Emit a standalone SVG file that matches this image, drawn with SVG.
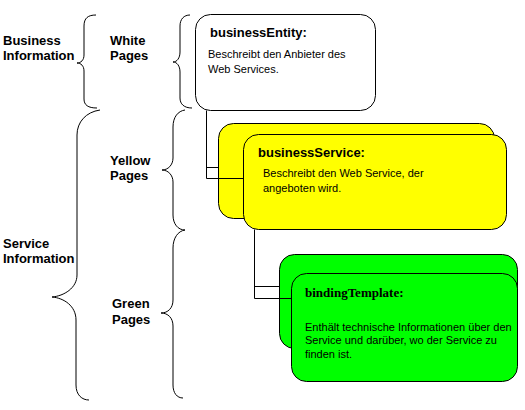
<svg xmlns="http://www.w3.org/2000/svg" width="525" height="410" viewBox="0 0 525 410">
<style>
.lbl{font-family:"Liberation Sans",Arial,sans-serif;font-weight:bold;font-size:13px;fill:#000}
.ttl{font-family:"Liberation Sans",Arial,sans-serif;font-weight:bold;font-size:13px;fill:#000}
.ttls{font-family:"Liberation Serif","Times New Roman",serif;font-weight:bold;font-size:13px;fill:#000}
.dsc{font-family:"Liberation Sans",Arial,sans-serif;font-size:11px;fill:#000}
.brace{fill:none;stroke:#000;stroke-width:1}
.card{stroke:#000;stroke-width:1}
.conn{fill:none;stroke:#000;stroke-width:1}
</style>
<rect width="525" height="410" fill="#fff"/>
<g id="braces">
<path class="brace" d="M96,15 C88,15 84,18 84,26 L84,55 C84,60 81,63 77,63 C81,63 84,66 84,71 L84,99 C84,105 88,108 97,108"/>
<path class="brace" d="M100,110 C86,112 77,122 77,135 L77,275 C77,288 64,296 52,297 C64,298 76,306 76,320 L76,385 C76,395 82,400 89,400"/>
<path class="brace" d="M190,15 C184,15 180,19 180,26 L180,52 C180,58 177,62 173,62 C177,62 180,66 180,72 L180,98 C180,104 184,108 192,108"/>
<path class="brace" d="M185,110 C178,111 173,117 173,127 L173,158 C173,165 168,170 162,170 C168,170 173,175 173,182 L173,215 C173,224 178,230 185,230"/>
<path class="brace" d="M185,230 C178,231 173,238 173,248 L173,300 C173,308 168,313 161,313 C168,313 173,318 173,326 L173,385 C173,393 177,398 183,398"/>
</g>
<g id="labels">
<text class="lbl" x="3" y="45">Business</text>
<text class="lbl" x="3" y="60">Information</text>
<text class="lbl" x="3" y="248">Service</text>
<text class="lbl" x="3" y="263">Information</text>
<text class="lbl" x="110" y="45">White</text>
<text class="lbl" x="110" y="60">Pages</text>
<text class="lbl" x="110" y="165">Yellow</text>
<text class="lbl" x="110" y="180">Pages</text>
<text class="lbl" x="112" y="308">Green</text>
<text class="lbl" x="112" y="324">Pages</text>
</g>
<g id="businessEntity">
<rect class="card" x="195.5" y="14.5" width="180" height="96" rx="15" fill="#fff"/>
<text class="ttl" x="210" y="37">businessEntity:</text>
<text class="dsc" x="208" y="58">Beschreibt den Anbieter des</text>
<text class="dsc" x="208" y="73">Web Services.</text>
</g>
<g id="businessService">
<rect class="card" x="218.5" y="123.5" width="276" height="95" rx="15" fill="#ffff00"/>
<rect class="card" x="243.5" y="134.5" width="263" height="95" rx="15" fill="#ffff00"/>
<text class="ttl" x="258" y="157">businessService:</text>
<text class="dsc" x="263" y="177">Beschreibt den Web Service, der</text>
<text class="dsc" x="263" y="192">angeboten wird.</text>
</g>
<g id="bindingTemplate">
<rect class="card" x="279.5" y="254.5" width="238" height="94" rx="15" fill="#00ff00"/>
<rect class="card" x="291.5" y="273.5" width="226" height="108" rx="15" fill="#00ff00"/>
<text class="ttls" x="305" y="297">bindingTemplate:</text>
<text class="dsc" x="305" y="331">Enthält technische Informationen über den</text>
<text class="dsc" x="305" y="344">Service und darüber, wo der Service zu</text>
<text class="dsc" x="305" y="358">finden ist.</text>
</g>
<g id="connectors">
<path class="conn" d="M206.5,110.5 V178.5 M206.5,167.5 H218.5 M206.5,178.5 H243.5"/>
<path class="conn" d="M254.5,229.5 V298.5 M254.5,286.5 H279.5 M254.5,298.5 H291.5"/>
</g>
</svg>
